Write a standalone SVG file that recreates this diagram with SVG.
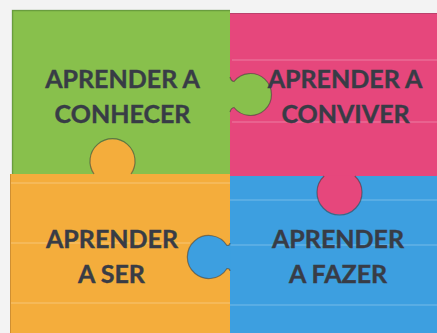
<svg xmlns="http://www.w3.org/2000/svg" width="437" height="333" viewBox="0 0 437 333">
<style>
.t{font-family:Lato,"Liberation Sans",sans-serif;font-weight:bold;font-size:25px;fill:#383c46;text-anchor:middle;stroke:#383c46;stroke-width:0.4}
.g{fill:#88c04c}
.p{fill:#e6477c}
.o{fill:#f4ad3c}
.b{fill:#3d9fe0}
.edge{stroke:#3a3a3a;stroke-opacity:0.55;stroke-width:1.2;fill:none}
.stripe{stroke:#ffffff;stroke-opacity:0.2;stroke-width:1.5}
</style>
<rect width="437" height="333" fill="#f3f3f3"/>
<g id="piece-pink">
<rect class="p" x="230" y="13" width="207" height="163"/>
<line x1="230" y1="13.5" x2="437" y2="13.5" stroke="#7a3a55" stroke-opacity="0.4"/>
<line class="stripe" x1="232" y1="60" x2="437" y2="60"/>
<line class="stripe" x1="232" y1="122" x2="437" y2="122"/>
</g>
<g id="piece-blue">
<rect class="b" x="230" y="176" width="207" height="157"/>
<line class="stripe" x1="230" y1="200" x2="437" y2="200"/>
<line class="stripe" x1="230" y1="245" x2="437" y2="245"/>
<line class="stripe" x1="230" y1="305" x2="437" y2="305"/>
</g>
<g id="piece-orange">
<rect class="o" x="10" y="174" width="220" height="159"/>
<line x1="10.5" y1="174" x2="10.5" y2="333" stroke="#8a5a20" stroke-opacity="0.35"/>
<line class="stripe" x1="11" y1="183" x2="230" y2="183"/>
<line class="stripe" x1="11" y1="243" x2="190" y2="243"/>
<line class="stripe" x1="11" y1="303" x2="230" y2="303"/>
</g>
<g id="piece-green">
<rect class="g" x="12" y="10" width="218" height="164"/>
<path d="M12.5 174 V10.5 H230" fill="none" stroke="#4a7a30" stroke-opacity="0.5" stroke-width="1.5"/>
</g>
<g id="knobs">
<path id="knob-green" class="g" d="M230 77 Q231 81 234 81.5 A21 21 0 1 1 234 107.5 Q231 108 230 112 Z"/>
<path class="edge" d="M230 77 Q231 81 234 81.5 A21 21 0 1 1 234 107.5 Q231 108 230 112" stroke-opacity="0.2"/>
<path id="knob-orange" class="o" d="M94 174.5 A22.5 22.5 0 1 1 131 174.5 Z"/>
<path class="edge" d="M94 174 A22.5 22.5 0 1 1 131 174"/>
<path id="knob-pink" class="p" d="M354.8 175.5 A22.5 22.5 0 1 1 324.2 175.5 Z"/>
<path class="edge" d="M354.8 176 A22.5 22.5 0 1 1 324.2 176" stroke-opacity="0.3"/>
<path id="knob-blue" class="b" d="M230.5 243 Q230 245.5 227 245.5 A21.5 21.5 0 1 0 227 268.5 Q230 268.5 230.5 271 Z"/>
<path class="edge" d="M230 243 Q230 245.5 227 245.5 A21.5 21.5 0 1 0 227 268.5 Q230 268.5 230 271"/>
</g>
<g id="labels">
<text class="t" x="122.5" y="88">APRENDER A</text>
<text class="t" x="122.5" y="123">CONHECER</text>
<text class="t" x="345" y="88">APRENDER A</text>
<text class="t" x="345.5" y="123">CONVIVER</text>
<text class="t" x="112" y="248">APRENDER</text>
<text class="t" x="111.5" y="283">A SER</text>
<text class="t" x="338" y="248">APRENDER</text>
<text class="t" x="338" y="283">A FAZER</text>
</g>
</svg>
